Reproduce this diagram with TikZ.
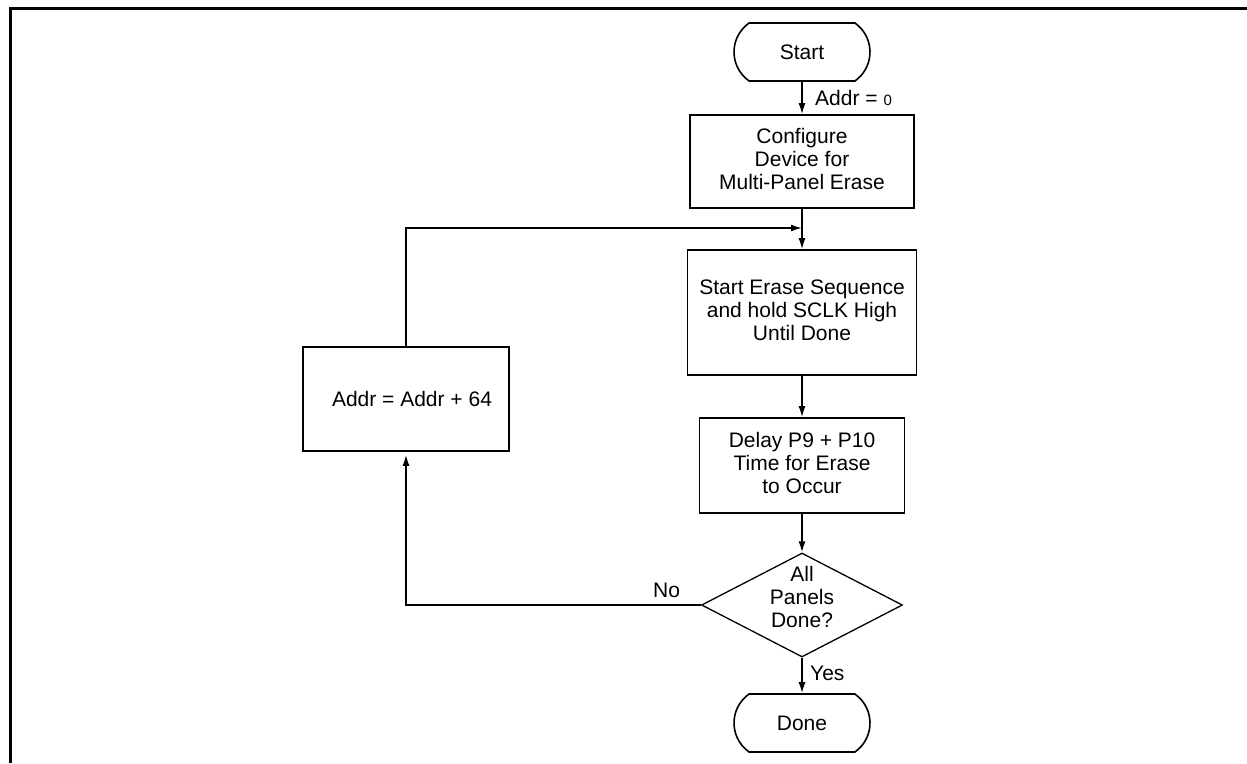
\documentclass[tikz,border=0pt]{standalone}
\usepackage{fontspec}
\setmainfont{Liberation Sans}
\usetikzlibrary{arrows.meta,shapes.geometric,shapes.misc}
\tikzset{
  base/.style={draw, line width=1.6pt, align=center, inner sep=0pt,
    font=\fontsize{21}{24}\selectfont},
  procbox/.style={base, rectangle},
  term/.style={base, rounded rectangle, rounded rectangle arc length=110,
    minimum width=136pt, minimum height=58pt},
  decision/.style={draw, line width=1.3pt, diamond, inner sep=0pt,
    minimum width=201pt, minimum height=104pt},
  arr/.style={line width=1.6pt, -{Latex[length=11pt,width=7pt]}},
  lbl/.style={font=\fontsize{21}{24}\selectfont, inner sep=0pt}
}
\begin{document}
\begin{tikzpicture}[x=1pt,y=-1pt]
\useasboundingbox (0,0) rectangle (1247,763);
\draw[line width=2.6pt] (10.5,763) -- (10.5,8.5) -- (1247,8.5);

\node[term] (start) at (802,52) {Start};
\node[procbox, minimum width=224pt, minimum height=93pt] (conf) at (802,161.5)
  {\raisebox{3pt}{\begin{tabular}{@{}c@{}}Configure\\[-1pt]Device for\\[-1pt]Multi-Panel Erase\end{tabular}}};
\node[procbox, minimum width=229pt, minimum height=125pt] (erase) at (802,312.5)
  {\raisebox{3pt}{\begin{tabular}{@{}c@{}}Start Erase Sequence\\[-1pt]and hold SCLK High\\[-1pt]Until Done\end{tabular}}};
\node[procbox, minimum width=205pt, minimum height=95pt] (delay) at (802,465.5)
  {\raisebox{2pt}{\begin{tabular}{@{}c@{}}Delay P9 + P10\\[-1pt]Time for Erase\\[-1pt]to Occur\end{tabular}}};
\node[decision] (dec) at (802,605) {};
\node[lbl, align=center] (dect) at (802,600)
  {\begin{tabular}{@{}c@{}}All\\[-1pt]Panels\\[-1pt]Done?\end{tabular}};
\node[term] (done) at (802,723) {Done};
\node[procbox, minimum width=206pt, minimum height=104pt] (addr) at (406,399)
  {\hspace*{12pt}Addr = Addr + 64};

\coordinate (j) at (802,228);

\draw[arr] (start.south) -- (conf.north);
\draw[line width=1.6pt] (conf.south) -- (j);
\draw[arr] (j) -- (erase.north);
\draw[arr] (erase.south) -- (delay.north);
\draw[arr] (delay.south) -- (dec.north);
\draw[arr] (dec.south) -- (done.north);
\draw[arr] (addr.north) |- (j);
\draw[arr, shorten >=3pt] (dec.west) -| (addr.south);

\node[lbl, anchor=west] (l0) at (815,98) {Addr = {\fontsize{15}{18}\selectfont 0}};
\node[lbl, anchor=west] (lyes) at (810,673) {Yes};
\node[lbl, anchor=west] (lno) at (653,590) {No};
\end{tikzpicture}
\end{document}
